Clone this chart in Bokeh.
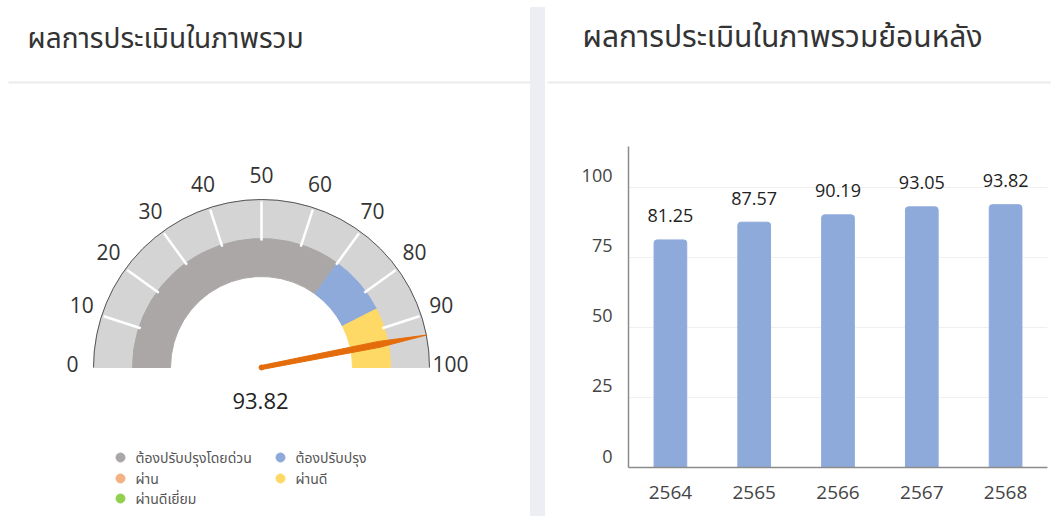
import math
from bokeh.plotting import figure
from bokeh.models import Range1d, FactorRange, FixedTicker, LinearAxis, Grid
from bokeh.layouts import row, column
from bokeh.embed import file_html
from bokeh.resources import INLINE
from bokeh.core.properties import value

# ---------------- data ----------------
title_left = "ผลการประเมินในภาพรวม"
title_right = "ผลการประเมินในภาพรวมย้อนหลัง"

gauge_score = 93.82
gauge_ticks = [0, 10, 20, 30, 40, 50, 60, 70, 80, 90, 100]
band_start = [0, 70, 85]
band_end = [70, 85, 100]
band_fill = ["#aba7a7", "#8eaadb", "#ffd966"]

legend_names = ["ต้องปรับปรุงโดยด่วน", "ต้องปรับปรุง", "ผ่าน", "ผ่านดี", "ผ่านดีเยี่ยม"]
legend_colors = ["#aba7a7", "#8eaadb", "#f4b183", "#ffd966", "#92d050"]

years = ["2564", "2565", "2566", "2567", "2568"]
scores = [81.25, 87.57, 90.19, 93.05, 93.82]
y_ticks = [0, 25, 50, 75, 100]

FONT = "Open Sans, Noto Sans Thai, Noto Sans, sans-serif"
TXT = "#333333"


def ang(v):
    return math.pi * (1 - v / 100.0)


# ---------------- left: gauge ----------------
L = figure(width=545, height=516, x_range=Range1d(-261, 284), y_range=Range1d(-149, 367),
           output_backend="svg", toolbar_location=None, min_border=0,
           x_axis_location=None, y_axis_location=None, outline_line_color=None)
L.grid.visible = False

L.quad(left=[269], right=[284], bottom=[-149], top=[360], color="#eceef4")
L.segment(x0=[-253], y0=[285], x1=[269], y1=[285], line_color="#ebebeb", line_width=2)
L.text(x=[-234], y=[331], text=[title_left], text_font=value(FONT), text_font_size="28px",
       text_baseline="middle", text_align="left", text_color=TXT)

# background track
L.annular_wedge(x=0, y=0, inner_radius=129, outer_radius=168, start_angle=0, end_angle=math.pi,
                color="#d4d4d4")
# coloured bands
L.annular_wedge(x=0, y=0, inner_radius=91, outer_radius=129,
                start_angle=[ang(e) for e in band_end], end_angle=[ang(s) for s in band_start],
                color=band_fill)
# white ticks
inner_t = [t for t in gauge_ticks if 0 < t < 100]
L.segment(x0=[127 * math.cos(ang(t)) for t in inner_t], y0=[127 * math.sin(ang(t)) for t in inner_t],
          x1=[166 * math.cos(ang(t)) for t in inner_t], y1=[166 * math.sin(ang(t)) for t in inner_t],
          line_color="white", line_width=2.5)
# outer arc
L.arc(x=0, y=0, radius=168, start_angle=0, end_angle=math.pi, line_color="#555555", line_width=1)
# tick labels
L.text(x=[189 * math.cos(ang(t)) for t in gauge_ticks], y=[189 * math.sin(ang(t)) for t in gauge_ticks],
       text=[str(t) for t in gauge_ticks], text_font=value(FONT), text_font_size="21px",
       y_offset=-4, text_align="center", text_baseline="middle", text_color=TXT)
# needle
a = ang(gauge_score)
ca, sa = math.cos(a), math.sin(a)
px, py = -sa, ca
nx = [2 * px, 120 * ca + 3 * px, 168 * ca, 120 * ca - 3 * px, -2 * px]
ny = [2 * py, 120 * sa + 3 * py, 168 * sa, 120 * sa - 3 * py, -2 * py]
L.patch(x=nx, y=ny, color="#e46c0a")
L.scatter(x=[0], y=[0], size=5, color="#e46c0a")
L.text(x=[-1], y=[-33], text=[f"{gauge_score:.2f}"], text_font=value(FONT), text_font_size="22px",
       text_align="center", text_baseline="middle", text_color="#222222")

# legend (manual)
lx = [-141, 19, -141, 19, -141]
ly = [-90, -90, -111, -111, -131]
L.scatter(x=lx, y=ly, size=9, color=legend_colors)
L.text(x=[x + 15 for x in lx], y=ly, text=legend_names, text_font=value(FONT), text_font_size="14px",
       text_align="left", text_baseline="middle", text_color="#555555")

# ---------------- right header ----------------
H = figure(width=506, height=118, x_range=Range1d(0, 506), y_range=Range1d(0, 118),
           output_backend="svg", toolbar_location=None, min_border=0,
           x_axis_location=None, y_axis_location=None, outline_line_color=None)
H.grid.visible = False
H.frame_align = False
H.text(x=[37], y=[83], text=[title_right], text_font=value(FONT), text_font_size="30px",
       text_baseline="middle", text_align="left", text_color=TXT)
H.segment(x0=[2], y0=[36], x1=[506], y1=[36], line_color="#ebebeb", line_width=2)

# ---------------- right bar chart ----------------
B = figure(width=506, height=398, x_range=FactorRange(*years), y_range=Range1d(0, 114.6),
           output_backend="svg", toolbar_location=None,
           min_border_left=83, min_border_right=4, min_border_top=28, min_border_bottom=49,
           y_axis_location=None, outline_line_color=None)
B.frame_align = False
B.grid.visible = False
B.add_layout(Grid(dimension=1, ticker=FixedTicker(ticks=y_ticks), grid_line_color="#f0f0f0",
                  grid_line_width=1))

B.extra_y_ranges = {"lab": Range1d(-4.1, 110.5)}
yax = LinearAxis(y_range_name="lab", ticker=FixedTicker(ticks=y_ticks))
yax.axis_line_color = "#8c8c8c"
yax.axis_line_width = 1.5
yax.major_tick_line_color = None
yax.minor_tick_line_color = None
yax.major_label_text_font = FONT
yax.major_label_text_font_size = "18px"
yax.major_label_text_color = "#444444"
yax.major_label_standoff = 10
B.add_layout(yax, "left")

xa = B.xaxis[0]
xa.axis_line_color = "#8c8c8c"
xa.axis_line_width = 1.5
xa.major_tick_line_color = None
xa.minor_tick_line_color = None
xa.major_label_text_font = FONT
xa.major_label_text_font_size = "19px"
xa.major_label_text_color = "#444444"
xa.major_label_standoff = 12

B.vbar(x=years, top=scores, width=0.39, color="#8eaadb", border_radius=(3, 3, 0, 0))
B.text(x=years, y=scores, text=[f"{s:.2f}" for s in scores], y_offset=-24,
       text_font=value(FONT), text_font_size="18px", text_align="center",
       text_baseline="middle", text_color="#222222")

layout = row(L, column(H, B))
open("out.html", "w").write(file_html(layout, INLINE))
